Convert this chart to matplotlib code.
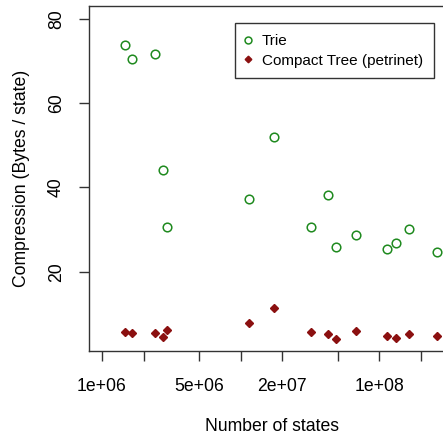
import matplotlib
matplotlib.use("Agg")
import matplotlib.pyplot as plt
from matplotlib.ticker import FixedLocator, FixedFormatter, NullLocator

plt.rcParams['font.family'] = ['Liberation Sans', 'DejaVu Sans']

states = [1.465e6, 1.662e6, 2.409e6, 2.778e6, 2.969e6, 1.151e7, 1.743e7,
          3.220e7, 4.270e7, 4.876e7, 6.795e7, 1.130e8, 1.313e8, 1.637e8, 2.604e8]
trie = [73.8, 70.5, 71.7, 44.2, 30.5, 37.3, 52.1, 30.5, 38.2, 25.9, 28.6,
        25.5, 26.7, 30.1, 24.6]
compact = [5.6, 5.4, 5.4, 4.4, 6.2, 7.7, 11.4, 5.6, 5.2, 4.1, 5.8, 4.8,
           4.3, 5.1, 4.7]
xticks = [1e6, 2e6, 5e6, 1e7, 2e7, 5e7, 1e8, 2e8]
xticklabels = ["1e+06", "", "5e+06", "", "2e+07", "", "1e+08", ""]
yticks = [20, 40, 60, 80]

fig = plt.figure(figsize=(4.43, 4.41), dpi=100)
ax = fig.add_axes([88.7/443, 1-351/441, (455.6-88.7)/443, (351-6)/441])
ax.set_xscale('log')
ax.set_xlim(10**5.906, 10**8.55)
ax.set_ylim(1.16, 83.1)

ax.plot(states, trie, linestyle='none', marker='o', markersize=6.2,
        markerfacecolor='none', markeredgecolor='#1f8a1f', markeredgewidth=1.1,
        label='Trie')
ax.plot(states, compact, linestyle='none', marker='D', markersize=4.2,
        color='#8b1010', label='Compact Tree (petrinet)')

ax.xaxis.set_major_locator(FixedLocator(xticks))
ax.xaxis.set_major_formatter(FixedFormatter(xticklabels))
ax.xaxis.set_minor_locator(NullLocator())
ax.set_yticks(yticks)
ax.set_yticklabels([str(v) for v in yticks], rotation=90, va='center')
ax.tick_params(axis='both', length=7.2, width=1, labelsize=12.7, color='#333333')
ax.tick_params(axis='x', pad=12)
ax.tick_params(axis='y', pad=10)

for s in ax.spines.values():
    s.set_linewidth(1)
    s.set_color('#333333')

ax.set_xlabel('Number of states', fontsize=12.7, labelpad=17)
ax.set_ylabel('Compression (Bytes / state)', fontsize=12.7, labelpad=13)

leg = ax.legend(loc='upper left', bbox_to_anchor=(234.7/443, 1-23.3/441),
                bbox_transform=fig.transFigure, fancybox=False, fontsize=11,
                borderaxespad=0, handletextpad=0.67, handlelength=0.4,
                labelspacing=0.37, borderpad=0.7, framealpha=1, markerscale=0.8)
leg.get_frame().set_edgecolor('#333333')
leg.get_frame().set_linewidth(1)

fig.savefig('out.png', dpi=100)
